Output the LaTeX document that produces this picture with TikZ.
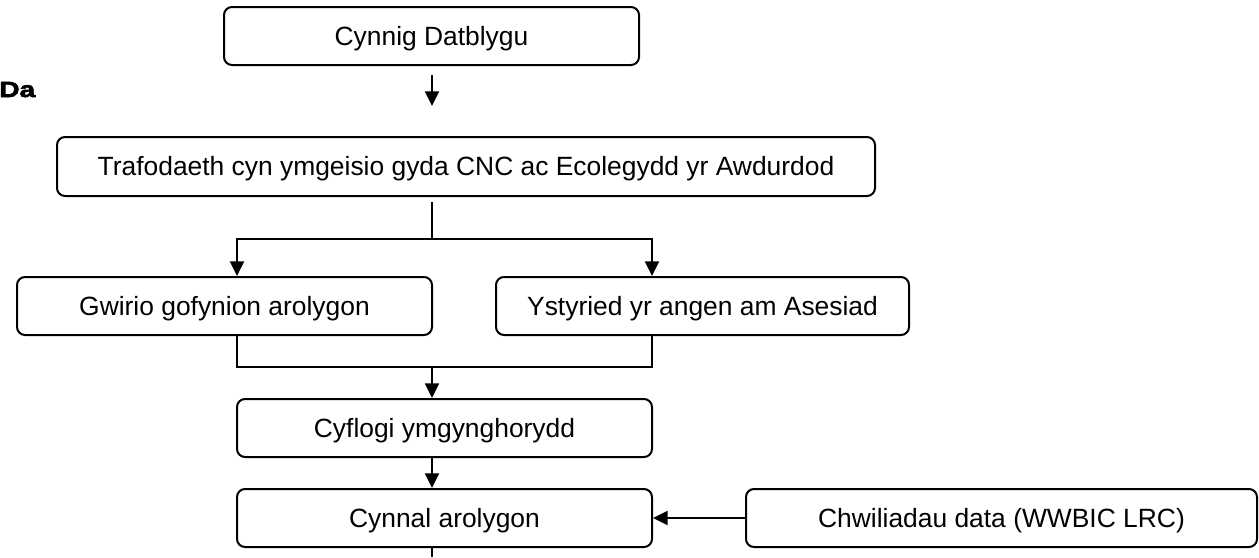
\documentclass[tikz,border=0pt]{standalone}
\usepackage{fontspec}
\setmainfont{Liberation Sans}
\newfontfamily\heavyfont[FakeBold=3,FakeStretch=1.28]{Liberation Sans Bold}
\usetikzlibrary{arrows.meta}
\begin{document}
\begin{tikzpicture}[x=0.75pt,y=-0.75pt,
  box/.style={draw=black,line width=1.5pt,rounded corners=6pt,inner sep=0pt,
    minimum height={58*0.75pt},align=center,text height={0.716*19.8pt},text depth=0pt,
    font=\fontsize{19.8pt}{23pt}\selectfont},
  conn/.style={line width=1.5pt,draw=black},
  arr/.style={conn,-{Triangle[length=11pt,width=10.5pt]}}]
\useasboundingbox (0,0) rectangle (1259,557);
\node[anchor=base west,inner sep=0pt,font=\heavyfont\fontsize{16.5pt}{19pt}\selectfont] (da) at (-1,97) {Da};

\node[box,minimum width={415*0.75pt}] (cynnig) at (431.5,36) {Cynnig Datblygu};
\node[box,minimum width={818*0.75pt},minimum height={59*0.75pt}] (traf) at (466,166.5) {Trafodaeth cyn ymgeisio gyda CNC ac Ecolegydd yr Awdurdod};
\node[box,minimum width={415*0.75pt}] (gwirio) at (224.5,306) {Gwirio gofynion arolygon};
\node[box,minimum width={413*0.75pt}] (ystyr) at (702.5,306) {Ystyried yr angen am Asesiad};
\node[box,minimum width={415*0.75pt}] (cyflogi) at (444.5,428) {Cyflogi ymgynghorydd};
\node[box,minimum width={415*0.75pt}] (cynnal) at (444.5,518) {Cynnal arolygon};
\node[box,minimum width={511*0.75pt}] (chwil) at (1001.5,518) {Chwiliadau data (WWBIC LRC)};

% Cynnig -> Trafodaeth (free-floating arrow)
\coordinate (a1s) at (432,75);
\coordinate (a1e) at (432,106);
\draw[arr] (a1s) -- (a1e);

% split from Trafodaeth
\coordinate (s0) at (432,202);
\coordinate (s1) at (432,239);
\draw[conn] (s0) -- (s1);
\draw[arr] (s1) -| (gwirio.north -| 237,0);
\draw[arr] (s1) -| (ystyr.north -| 652,0);

% merge into Cyflogi
\coordinate (m1) at (432,367);
\draw[conn] (gwirio.south -| 237,0) |- (m1) -| (ystyr.south -| 652,0);
\draw[arr] (m1) -- (cyflogi.north -| m1);

% Cyflogi -> Cynnal
\draw[arr] (cyflogi.south -| m1) -- (cynnal.north -| m1);

% Chwiliadau -> Cynnal
\draw[arr] (chwil.west) -- (cynnal.east);

% continuation below
\coordinate (bot) at (432,557);
\draw[conn] (cynnal.south -| bot) -- (bot);
\end{tikzpicture}
\end{document}
